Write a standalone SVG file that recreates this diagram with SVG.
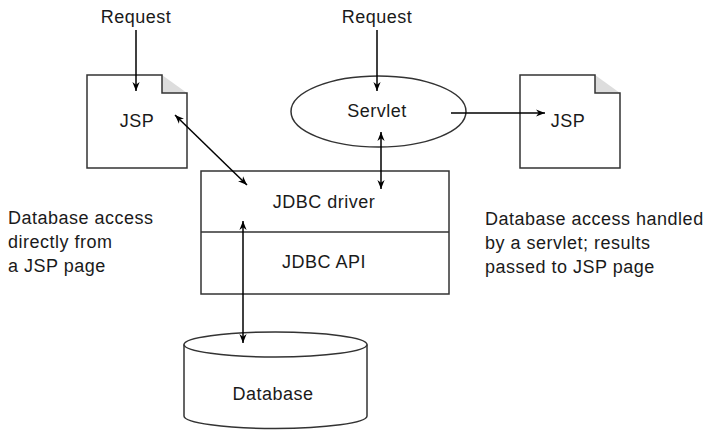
<svg xmlns="http://www.w3.org/2000/svg" width="709" height="430" viewBox="0 0 709 430">
<style>
text{font-family:"Liberation Sans",Arial,sans-serif;font-size:18px;letter-spacing:0.5px;fill:#1a1a1a}
.c{text-anchor:middle}
.s{fill:#fff;stroke:#333;stroke-width:1.5}
.w{fill:#fff;stroke:none}
.f{fill:#ddd;stroke:none}
.l{fill:none;stroke:#000;stroke-width:1.5}
.o{fill:none;stroke:#333;stroke-width:1.5}
</style>
<defs>
<marker id="a" viewBox="0 0 10 10" refX="10" refY="5" markerWidth="9" markerHeight="9" markerUnits="userSpaceOnUse" orient="auto-start-reverse">
<path d="M0,1 L10,5 L0,9 L3,5 Z" fill="#000"/>
</marker>
</defs>
<rect width="709" height="430" fill="#fff"/>
<g id="jsp1">
<path class="w" d="M87,75 H162 L187,93 V168 H87 Z"/>
<path class="f" d="M162,75 L187,93 H162 Z"/>
<path class="o" d="M162,75 H87 V168 H187 V93 H162 Z"/>
<text class="c" x="137" y="127">JSP</text>
</g>
<g id="servlet">
<ellipse class="s" cx="378.5" cy="111.5" rx="87.5" ry="35.5"/>
<text class="c" x="377" y="117">Servlet</text>
</g>
<g id="jsp2">
<path class="w" d="M520,75 H595 L620,93 V168 H520 Z"/>
<path class="f" d="M595,75 L620,93 H595 Z"/>
<path class="o" d="M595,75 H520 V168 H620 V93 H595 Z"/>
<text class="c" x="568" y="127">JSP</text>
</g>
<g id="jdbc">
<rect class="s" x="201" y="171" width="248" height="123"/>
<line class="o" x1="201" y1="232" x2="449" y2="232"/>
<text class="c" x="324" y="208">JDBC driver</text>
<text class="c" x="324" y="268">JDBC API</text>
</g>
<g id="database">
<path class="s" d="M184,344.5 V416 A91.5,12.5 0 0 0 367,416 V344.5"/>
<ellipse class="s" cx="275.5" cy="344.5" rx="91.5" ry="12.5"/>
<text class="c" x="273" y="400">Database</text>
</g>
<g id="req1"><text class="c" x="136" y="23">Request</text></g>
<g id="req2"><text class="c" x="377" y="23">Request</text></g>
<g id="note1">
<text x="8" y="224">Database access</text>
<text x="8" y="248">directly from</text>
<text x="8" y="272">a JSP page</text>
</g>
<g id="note2">
<text x="485" y="225">Database access handled</text>
<text x="485" y="249">by a servlet; results</text>
<text x="485" y="273">passed to JSP page</text>
</g>
<g id="connectors">
<line class="l" x1="136" y1="30" x2="136" y2="91" marker-end="url(#a)"/>
<line class="l" x1="377" y1="30" x2="377" y2="91" marker-end="url(#a)"/>
<line class="l" x1="175" y1="115" x2="247" y2="185" marker-start="url(#a)" marker-end="url(#a)"/>
<line class="l" x1="381" y1="132" x2="381" y2="189" marker-start="url(#a)" marker-end="url(#a)"/>
<line class="l" x1="451" y1="113" x2="545" y2="113" marker-end="url(#a)"/>
<line class="l" x1="243" y1="221" x2="243" y2="343" marker-start="url(#a)" marker-end="url(#a)"/>
</g>
</svg>
